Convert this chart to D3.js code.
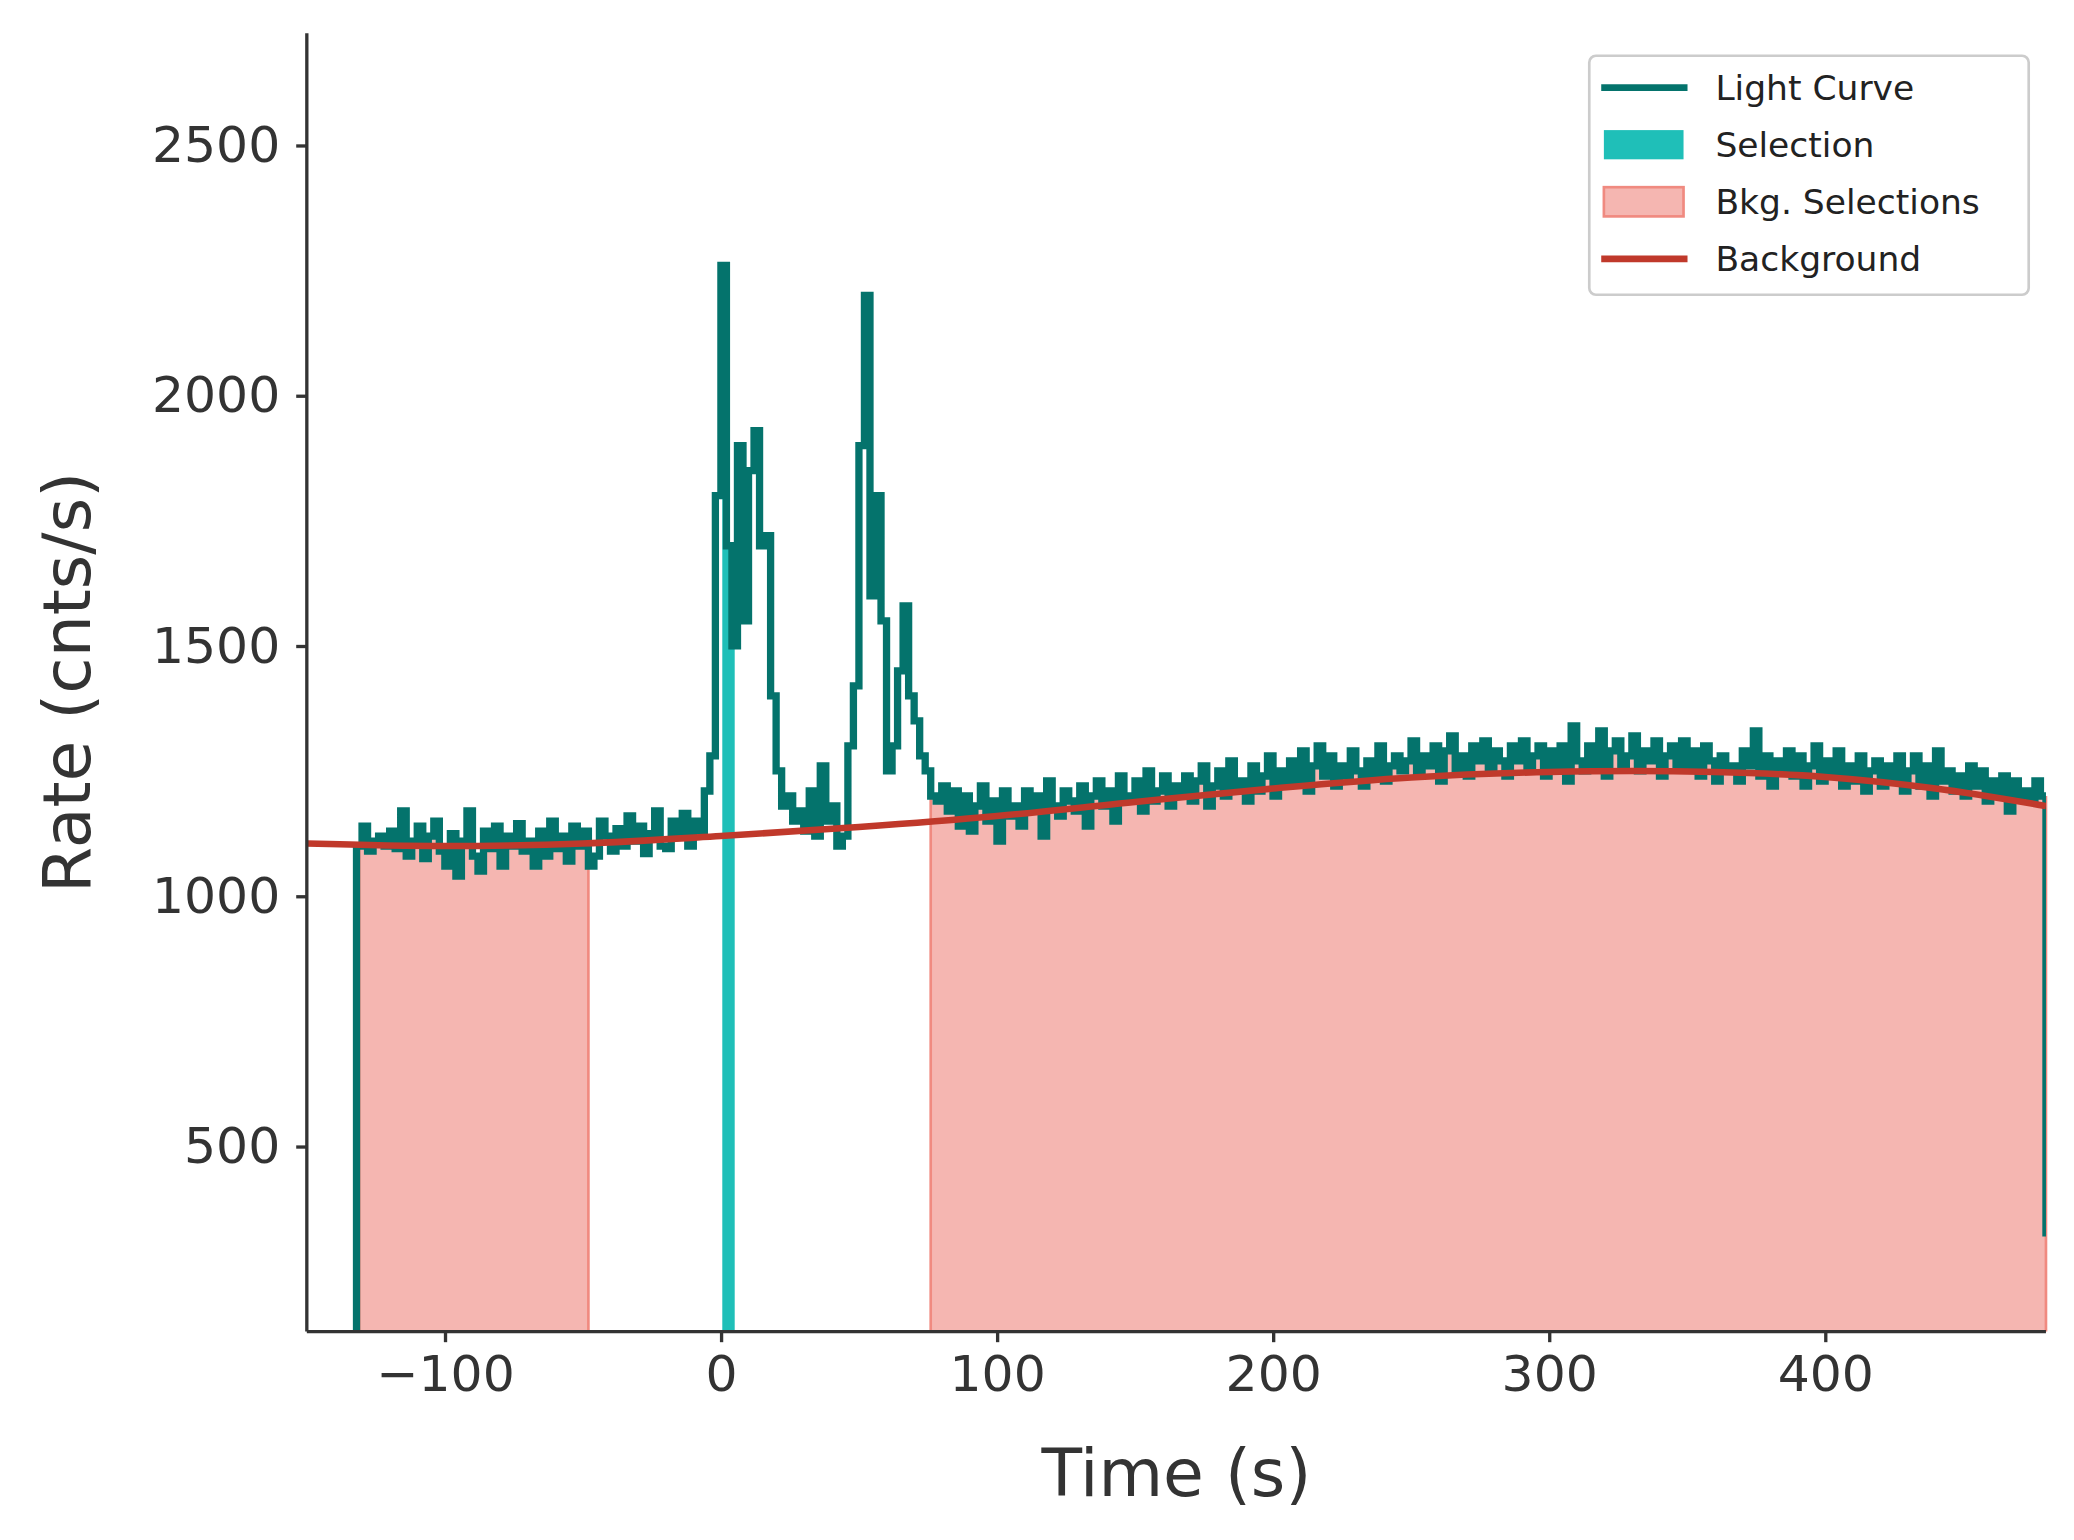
<!DOCTYPE html>
<html><head><meta charset="utf-8">
<script src="https://cdn.jsdelivr.net/npm/d3@7"></script>
<style>body{margin:0;background:#fff}</style></head>
<body><svg id="c"></svg>
<script>
const binStart = -132, binWidth = 2, endTime = 480, endDrop = 320, startLevel = 130;
const rates = [
1100,1140,1090,1110,1120,1100,1130,1095,1170,1080,
1110,1140,1075,1120,1150,1090,1060,1125,1040,1110,
1170,1080,1050,1130,1095,1140,1060,1120,1100,1145,
1090,1110,1060,1130,1080,1150,1095,1120,1070,1140,
1100,1130,1060,1080,1150,1120,1090,1135,1100,1160,
1110,1140,1085,1125,1170,1100,1095,1150,1120,1165,
1100,1150,1130,1210,1280,1800,2260,1700,1500,1900,
1550,1850,1930,1700,1720,1400,1250,1180,1200,1150,
1170,1130,1210,1120,1260,1150,1180,1100,1120,1300,
1420,1900,2200,1600,1800,1550,1250,1300,1450,1580,
1400,1350,1280,1250,1200,1190,1220,1170,1210,1140,
1200,1130,1180,1220,1150,1190,1110,1210,1160,1180,
1140,1210,1170,1200,1120,1230,1180,1160,1210,1190,
1170,1220,1140,1200,1230,1180,1210,1150,1240,1190,
1200,1230,1170,1250,1190,1210,1240,1180,1220,1200,
1240,1190,1230,1260,1180,1220,1250,1200,1270,1210,
1230,1190,1260,1210,1240,1280,1200,1250,1220,1270,
1230,1290,1210,1260,1300,1240,1280,1220,1260,1240,
1290,1250,1220,1270,1240,1300,1230,1260,1280,1250,
1270,1310,1240,1280,1260,1300,1230,1290,1320,1250,
1280,1240,1300,1270,1310,1250,1290,1270,1240,1300,
1270,1310,1250,1280,1300,1240,1290,1260,1300,1230,
1340,1270,1250,1300,1260,1330,1240,1290,1310,1260,
1280,1320,1250,1290,1270,1310,1240,1280,1300,1260,
1310,1260,1290,1240,1300,1270,1230,1280,1250,1260,
1230,1290,1260,1330,1240,1280,1220,1270,1250,1290,
1240,1280,1220,1260,1300,1230,1270,1240,1290,1220,
1260,1230,1280,1210,1250,1270,1220,1260,1230,1280,
1210,1250,1280,1220,1260,1200,1290,1230,1250,1210,
1240,1200,1260,1220,1250,1190,1230,1200,1240,1170,
1230,1200,1210,1190,1230,1200];
const bkgTimes = [-150,-100,-50,0,50,100,150,200,250,300,330,360,400,440,480];
const bkgRates = [1105,1100,1105,1120,1138,1160,1188,1215,1237,1248,1250,1248,1238,1215,1180];
const selection = [0.5, 5];
const bkgSelections = [[-131,-48],[76,480]];
const xTicks = [-100,0,100,200,300,400];
const yTicks = [500,1000,1500,2000,2500];
const legendLabels = ["Light Curve","Selection","Bkg. Selections","Background"];

const W=1560,H=1160;
const svg=d3.select("#c").attr("width",2074).attr("height",1540).attr("viewBox",`0 0 ${W} ${H}`);
const m={l:230,r:1540,t:25,b:1003};
const x=d3.scaleLinear().domain([-150,480]).range([m.l,m.r]);
const y=d3.scaleLinear().domain([130,2724]).range([m.b,m.t]);
const font="DejaVu Sans", tc="#333";

const pts=[{t:binStart,v:startLevel}];
rates.forEach((v,i)=>pts.push({t:binStart+i*binWidth,v}));
pts.push({t:endTime,v:rates[rates.length-1]});
const areaPts=pts.slice(1);

const defs=svg.append("defs");
defs.append("clipPath").attr("id","plot").append("rect").attr("x",m.l).attr("y",m.t).attr("width",m.r-m.l).attr("height",m.b-m.t);
const area=d3.area().curve(d3.curveStepAfter).x(d=>x(d.t)).y0(y(130)).y1(d=>y(d.v));
function clipRange(id,a,b){defs.append("clipPath").attr("id",id).append("rect")
  .attr("x",x(a)).attr("y",m.t).attr("width",x(b)-x(a)).attr("height",m.b-m.t);}
bkgSelections.forEach((r,i)=>{clipRange("bk"+i,r[0],r[1]);
  svg.append("path").attr("d",area(areaPts)).attr("clip-path",`url(#bk${i})`).attr("fill","#f5b6b1");
});
bkgSelections.forEach(r=>r.forEach(tt=>{
  const i=Math.min(rates.length-1,Math.max(0,Math.floor((tt-binStart)/binWidth)));
  svg.append("line").attr("x1",x(tt)).attr("x2",x(tt)).attr("y1",y(130)).attr("y2",y(rates[i]))
   .attr("stroke","#f08a80").attr("stroke-width",2);
}));
clipRange("sel",selection[0],selection[1]);
svg.append("path").attr("d",area(areaPts)).attr("clip-path","url(#sel)").attr("fill","#1fbfb8");

const g=svg.append("g").attr("clip-path","url(#plot)");
g.append("path").datum(pts.concat([{t:endTime,v:endDrop}])).attr("fill","none").attr("stroke","#04736c")
 .attr("stroke-width",5.5).attr("d",d3.line().curve(d3.curveStepAfter).x(d=>x(d.t)).y(d=>y(d.v)));
g.append("path").datum(bkgTimes.map((t,i)=>({t,v:bkgRates[i]}))).attr("fill","none").attr("stroke","#c0392b")
 .attr("stroke-width",5).attr("d",d3.line().curve(d3.curveMonotoneX).x(d=>x(d.t)).y(d=>y(d.v)));

const xa=svg.append("g").attr("transform",`translate(0,${m.b})`).call(d3.axisBottom(x).tickValues(xTicks).tickSize(8).tickPadding(10).tickFormat(d=>d<0?"\u2212"+(-d):d));
const ya=svg.append("g").attr("transform",`translate(${m.l},0)`).call(d3.axisLeft(y).tickValues(yTicks).tickSize(8).tickPadding(12).tickFormat(d3.format("d")));
[xa,ya].forEach(a=>{a.selectAll("path").attr("stroke",tc).attr("stroke-width",2.5);
 a.selectAll("line").attr("stroke",tc).attr("stroke-width",2.5);
 a.selectAll("text").attr("fill",tc).attr("font-family",font).attr("font-size",38);});
xa.select(".domain").attr("d",`M${m.l},0H${m.r}`);
ya.select(".domain").attr("d",`M0,${m.b}V${m.t}`);
svg.append("text").attr("x",(m.l+m.r)/2).attr("y",1127).attr("text-anchor","middle").attr("font-family",font).attr("font-size",50).attr("fill",tc).text("Time (s)");
svg.append("text").attr("transform",`translate(67,${(m.t+m.b)/2}) rotate(-90)`).attr("text-anchor","middle").attr("font-family",font).attr("font-size",50).attr("fill",tc).text("Rate (cnts/s)");

const lg=svg.append("g");
lg.append("rect").attr("x",1196).attr("y",42).attr("width",331).attr("height",180).attr("rx",5).attr("fill","#fff").attr("stroke","#ccc").attr("stroke-width",2);
legendLabels.forEach((t,i)=>{const yy=66+i*43;
 if(i==0||i==3) lg.append("line").attr("x1",1205).attr("x2",1270).attr("y1",yy).attr("y2",yy).attr("stroke",i==0?"#04736c":"#c0392b").attr("stroke-width",5);
 else lg.append("rect").attr("x",1207).attr("y",yy-11).attr("width",60).attr("height",22).attr("fill",i==1?"#1fbfb8":"#f5b6b1").attr("stroke",i==2?"#f08a80":"none").attr("stroke-width",2);
 lg.append("text").attr("x",1291).attr("y",yy+9).attr("font-family",font).attr("font-size",26).attr("fill","#222").text(t);});
</script></body></html>
